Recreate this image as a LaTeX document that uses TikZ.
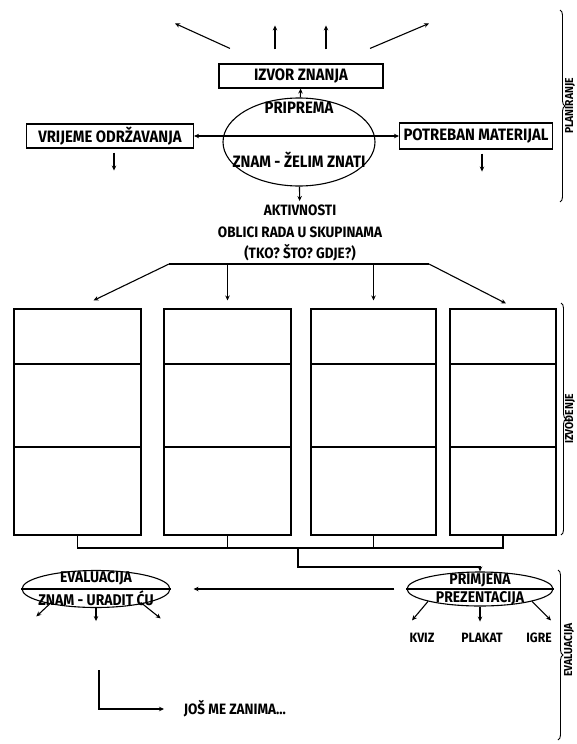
\documentclass[tikz,border=0pt]{standalone}
\usepackage{fontspec}
\newfontfamily\handfont[FakeStretch=0.9]{Fira Sans}
\usepackage{tikz}
\usetikzlibrary{arrows.meta,shapes.geometric,decorations.pathreplacing}

\newcommand{\labfont}{\handfont\bfseries\fontsize{16.5}{19}\selectfont}
\newcommand{\midfont}{\handfont\bfseries\fontsize{15}{21.5}\selectfont}
\newcommand{\ovfont}{\handfont\bfseries\fontsize{15.5}{17}\selectfont}
\newcommand{\smfont}{\handfont\bfseries\fontsize{13.5}{15}\selectfont}
\newcommand{\sidefont}{\handfont\bfseries\fontsize{11.5}{13}\selectfont}

\begin{document}
\begin{tikzpicture}[x=1pt, y=-1pt, line width=1.1pt,
    box/.style={draw, inner sep=0pt, font=\labfont},
    oval/.style={draw, ellipse, inner sep=0pt},
    cell/.style={draw, inner sep=0pt},
    arr/.style={-{Stealth[length=5pt,width=4.5pt]}},
    darr/.style={{Stealth[length=5pt,width=4.5pt]}-{Stealth[length=5pt,width=4.5pt]}},
    side/.style={decorate, decoration={brace, amplitude=5pt}, line width=0.9pt},
    sidelab/.style={font=\sidefont, rotate=90, inner sep=0pt}]
        \useasboundingbox (0,0) rectangle (577,744);

        % planiranje
        \node[box, minimum width=164, minimum height=24] (izvor) at (301,76) {IZVOR ZNANJA};
        \node[oval, minimum width=152, minimum height=88] (prip) at (299,142) {};
        \node[font=\labfont] (tprip) at (299,108) {PRIPREMA};
        \node[font=\labfont] (tznam) at (299,160) {ZNAM - ŽELIM ZNATI};
        \node[box, minimum width=167, minimum height=24] (vrij) at (110,136) {VRIJEME ODRŽAVANJA};
        \node[box, minimum width=153, minimum height=26] (potr) at (476,136) {POTREBAN MATERIJAL};

        \draw[arr] (prip) -- (izvor);
        \draw[darr] (vrij) -- (potr);
        \draw[arr] ([shift={(-71,-15)}]izvor.north) -- ++(-55,-25);
        \draw[arr] ([shift={(-26,-14)}]izvor.north) -- ++(0,-24);
        \draw[arr] ([shift={(25,-14)}]izvor.north) -- ++(0,-24);
        \draw[arr] ([shift={(69,-15)}]izvor.north) -- ++(59,-25);
        \draw[arr] ([shift={(4,4)}]vrij.south) -- ++(0,18);
        \draw[arr] ([shift={(6,4)}]potr.south) -- ++(0,18);

        \node[font=\midfont, align=center] (akt) at (300,233) {AKTIVNOSTI\\OBLICI RADA U SKUPINAMA\\(TKO? ŠTO? GDJE?)};
        \draw[arr] (prip) -- (akt);

        % izvodjenje
        \node[cell, minimum width=127, minimum height=226] (g1) at (77.5,422) {};
        \node[cell, minimum width=127, minimum height=226] (g2) at (227.5,422) {};
        \node[cell, minimum width=125, minimum height=226] (g3) at (373.5,422) {};
        \node[cell, minimum width=106, minimum height=226] (g4) at (503,422) {};
        \coordinate (d1) at (0,364);
        \coordinate (d2) at (0,447);
        \draw (g1.west |- d1) -- (g1.east |- d1);
        \draw (g1.west |- d2) -- (g1.east |- d2);
        \draw (g2.west |- d1) -- (g2.east |- d1);
        \draw (g2.west |- d2) -- (g2.east |- d2);
        \draw (g3.west |- d1) -- (g3.east |- d1);
        \draw (g3.west |- d2) -- (g3.east |- d2);
        \draw (g4.west |- d1) -- (g4.east |- d1);
        \draw (g4.west |- d2) -- (g4.east |- d2);

        \coordinate (hl) at (169,264);
        \coordinate (hr) at (429,264);
        \draw (hl) -- (hr);
        \draw[arr] (hl) -- ([shift={(16,-8)}]g1.north);
        \draw[arr] (g2.north |- hl) -- ([yshift=8pt]g2.north);
        \draw[arr] (g3.north |- hl) -- ([yshift=8pt]g3.north);
        \draw[arr] (hr) -- ([shift={(3,-5)}]g4.north);

        % evaluacija
        \node[oval, minimum width=146, minimum height=34] (prim) at (480,589) {};
        \node[oval, minimum width=148, minimum height=37] (eval) at (96,589) {};
        \draw (prim.west) -- (prim.east);
        \draw (eval.west) -- (eval.east);
        \node[font=\ovfont] (tprim) at (480,580) {PRIMJENA};
        \node[font=\ovfont] (tprez) at (480,598) {PREZENTACIJA};
        \node[font=\ovfont] (teval) at (96,578) {EVALUACIJA};
        \node[font=\ovfont] (tuma) at (96,598) {ZNAM - URADIT ĆU};

        \coordinate (bl) at (0,548);
        \coordinate (bl2) at (0,567);
        \coordinate (mid) at (298,548);
        \draw (g1.south) -- (g1.south |- bl) -- (g4.south |- bl) -- (g4.south);
        \draw (g2.south) -- (g2.south |- bl);
        \draw (g3.south) -- (g3.south |- bl);
        \draw[arr] (mid) -- (mid |- bl2) -- (prim.north |- bl2) -- (prim.north);

        \draw[arr, shorten <=12pt, shorten >=23pt] (prim.west) -- (eval.east);

        \node[font=\smfont] (kviz) at (422,638) {KVIZ};
        \node[font=\smfont] (plakat) at (482,638) {PLAKAT};
        \node[font=\smfont] (igre) at (539,638) {IGRE};
        \draw[arr] (prim.south west) -- ++(-16,19);
        \draw[arr] (prim.south) -- ++(0,15);
        \draw[arr] (prim.south east) -- ++(19,19);

        \draw[arr] ([xshift=8pt]eval.south west) -- ++(-15,14);
        \draw[arr] (eval.south) -- ++(0,13);
        \draw[arr] ([xshift=-8pt]eval.south east) -- ++(20,16);

        \node[font=\midfont, anchor=west] (jos) at (180,709) {JOŠ ME ZANIMA...};
        \coordinate (ls) at (99,670);
        \draw[arr, shorten >=16pt] (ls) |- (jos.west);

        % zagrade
        \draw[side] (560,10) -- (560,202);
        \draw[side] (561,303) -- (561,535);
        \draw[side] (558,570) -- (558,740);
        \node[sidelab] (plan) at (570,106) {PLANIRANJE};
        \node[sidelab] (izv) at (570,419) {IZVOĐENJE};
        \node[sidelab] (evl) at (569,650) {EVALUACIJA};
\end{tikzpicture}
\end{document}
